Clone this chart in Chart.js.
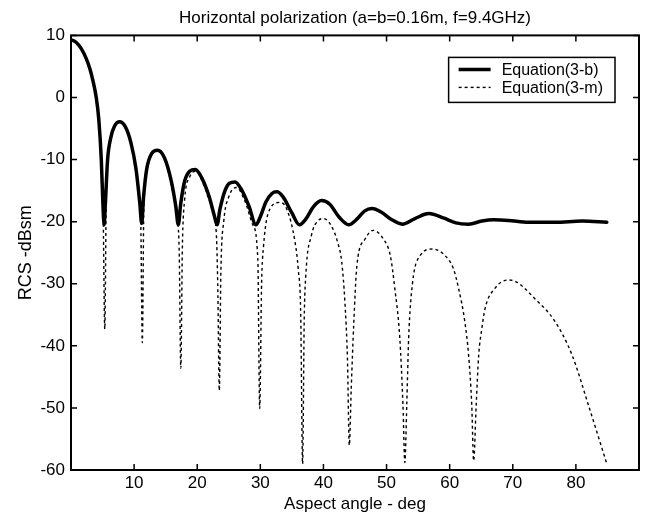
<!DOCTYPE html>
<html><head><meta charset="utf-8">
<script src="https://cdn.jsdelivr.net/npm/chart.js@4.4.1/dist/chart.umd.min.js"></script>
<style>html,body{margin:0;padding:0;background:#fff}#wrap{width:653px;height:516px;position:relative}</style>
</head><body><div id="wrap"><canvas id="c"></canvas></div>
<script>
const titleText = 'Horizontal polarization (a=b=0.16m, f=9.4GHz)';
const xTitle = 'Aspect angle - deg';
const yTitle = 'RCS -dBsm';
const seriesNames = ['Equation(3-b)', 'Equation(3-m)'];
const xTicks = [10, 20, 30, 40, 50, 60, 70, 80];
const yTicks = [-60, -50, -40, -30, -20, -10, 0, 10];

const angleB = [0,0.8,1.6,2.4,3.0,3.5,4.0,4.4,4.8,5.05,5.25,5.45,5.8,6.3,6.9,7.7,8.6,9.5,10.3,10.9,11.2,11.5,12.0,12.8,13.7,14.8,15.9,16.6,17.0,17.4,18.0,18.8,19.7,20.7,21.9,22.7,23.15,23.6,24.4,25.1,26.0,27.0,28.2,29.3,30.0,30.9,31.8,32.6,33.6,35.0,36.2,37.2,38.4,39.7,41.0,42.5,44.0,45.3,46.5,47.7,49.2,50.7,52.5,54.5,56.7,59.0,61.0,63.0,65.1,67.0,69.3,72.5,76.7,81.0,84.9];
const rcsB = [9.3,8.9,7.9,6.3,4.6,2.6,0.0,-3.5,-10,-17,-20.5,-17,-10,-6.5,-4.6,-3.9,-4.7,-7.3,-11.5,-17,-20.3,-16,-11.5,-9.0,-8.5,-9.7,-13.5,-17.5,-20.5,-17,-13.5,-11.9,-11.6,-12.9,-16.0,-19,-20.5,-18,-15,-13.8,-13.6,-14.8,-17.5,-20.5,-19.2,-16.8,-15.5,-15.2,-16.0,-18.6,-20.5,-19.6,-17.6,-16.6,-17.2,-19.3,-20.5,-19.6,-18.3,-17.9,-18.5,-19.6,-20.4,-19.5,-18.7,-19.4,-20.2,-20.4,-19.9,-19.7,-19.8,-20.1,-20.1,-19.9,-20.1];

const angleM = [0,0.8,1.6,2.4,3.0,3.5,4.0,4.4,4.8,5.1,5.35,5.6,6.0,6.7,7.7,8.8,9.8,10.6,11.05,11.3,11.55,11.9,12.7,13.7,14.9,15.9,16.8,17.15,17.4,17.65,18.0,18.8,19.8,21.0,22.2,23.0,23.25,23.5,23.75,24.2,25.0,26.2,27.6,28.8,29.6,29.9,30.2,30.5,31.5,33.1,34.2,35.5,36.0,36.4,36.7,36.95,37.2,38.1,39.2,40.0,41.2,42.3,42.9,43.4,43.8,44.1,44.4,44.8,45.3,46.6,47.9,49.5,50.6,51.3,52.1,52.6,52.9,53.2,53.5,54.1,55.3,57.3,59.3,60.6,61.4,62.4,63.0,63.5,63.8,64.2,64.6,65.1,65.6,67.2,69.2,70.4,73.5,76.7,79.4,82.0,84.9];
const rcsM = [9.3,8.9,7.9,6.3,4.6,2.6,0.0,-3.5,-10,-19,-37.3,-15,-8.2,-5.0,-4.0,-5.0,-8.8,-14.2,-20,-39.5,-17,-12.6,-9.3,-8.6,-9.9,-14.2,-19.5,-25,-43.6,-24,-16.5,-12.8,-11.9,-14.0,-17.5,-21.5,-30,-47.2,-28,-20,-16.0,-14.5,-16.8,-20.5,-26,-50.1,-30,-24,-18.0,-16.9,-18.0,-23.3,-27.6,-35,-59,-36,-28.7,-22.2,-19.8,-19.5,-20.6,-23.5,-26.5,-33,-42,-56,-47,-36.5,-27.1,-22.8,-21.4,-22.8,-25.5,-30.7,-38.8,-49.6,-58.8,-49.6,-38.8,-30.0,-25.5,-24.4,-25.5,-27.6,-30.7,-36.1,-41.5,-49.6,-58.5,-49.6,-41.5,-37.2,-34.0,-30.7,-29.4,-29.6,-32.4,-36.1,-41.5,-49.6,-59];

const FONT = 'Liberation Sans, Arial, Helvetica, sans-serif';
const toPts = (xs, ys) => xs.map((x, i) => ({x: x, y: ys[i]}));

const framePlugin = {
  id: 'frameTicks',
  afterDraw(chart) {
    const {ctx, chartArea: a, scales} = chart;
    ctx.save();
    ctx.strokeStyle = '#000';
    ctx.lineWidth = 1.5;
    const tl = 6;
    ctx.beginPath();
    xTicks.forEach(v => {
      const px = scales.x.getPixelForValue(v);
      ctx.moveTo(px, a.bottom); ctx.lineTo(px, a.bottom - tl);
      ctx.moveTo(px, a.top); ctx.lineTo(px, a.top + tl);
    });
    yTicks.forEach(v => {
      const py = scales.y.getPixelForValue(v);
      ctx.moveTo(a.left, py); ctx.lineTo(a.left + tl, py);
      ctx.moveTo(a.right, py); ctx.lineTo(a.right - tl, py);
    });
    ctx.stroke();
    ctx.lineWidth = 2;
    ctx.strokeRect(a.left, a.top, a.right - a.left, a.bottom - a.top);

    // legend inside the axes
    ctx.font = '16px ' + FONT;
    const ds = chart.data.datasets;
    const tw = Math.max(...ds.map(d => ctx.measureText(d.label).width));
    const sample = 32, pad = 10, gap = 11, rowH = 18;
    const w = pad + sample + gap + tw + 12;
    const h = 12 + rowH * ds.length - 3;
    const right = a.right - 24, top = a.top + 22;
    const left = right - w;
    ctx.fillStyle = '#fff';
    ctx.fillRect(left, top, w, h);
    ctx.lineWidth = 1.5;
    ctx.strokeRect(left, top, w, h);
    ds.forEach((d, i) => {
      const y = top + 12 + i * rowH;
      ctx.beginPath();
      ctx.lineWidth = d.borderWidth;
      ctx.setLineDash(d.borderDash || []);
      ctx.moveTo(left + pad, y); ctx.lineTo(left + pad + sample, y);
      ctx.strokeStyle = d.borderColor;
      ctx.stroke();
      ctx.setLineDash([]);
      ctx.fillStyle = '#000';
      ctx.textBaseline = 'middle';
      ctx.textAlign = 'left';
      ctx.fillText(d.label, left + pad + sample + gap, y + 1);
    });
    ctx.restore();
  }
};

new Chart(document.getElementById('c'), {
  type: 'line',
  data: {
    datasets: [
      {label: seriesNames[0], data: toPts(angleB, rcsB), borderColor: '#000', borderWidth: 3.5,
       pointRadius: 0, tension: 0.4, cubicInterpolationMode: 'monotone', borderJoinStyle: 'round', borderCapStyle: 'round', fill: false},
      {label: seriesNames[1], data: toPts(angleM, rcsM), borderColor: '#000', borderWidth: 1.4, borderDash: [3, 3],
       pointRadius: 0, tension: 0.4, cubicInterpolationMode: 'monotone', fill: false}
    ]
  },
  options: {
    responsive: true, maintainAspectRatio: false, devicePixelRatio: 1, animation: false,
    layout: {padding: {left: 0, right: 14, top: 0, bottom: 0}},
    plugins: {
      legend: {display: false},
      tooltip: {enabled: false},
      title: {display: true, fullSize: false, text: titleText, color: '#000', font: {family: FONT, size: 17, weight: 'normal'}, padding: {top: 8, bottom: 7}}
    },
    scales: {
      x: {
        type: 'linear', min: 0, max: 90,
        grid: {display: false, drawTicks: false}, border: {display: false},
        ticks: {stepSize: 10, autoSkip: false, maxRotation: 0, padding: 3, color: '#000', font: {family: FONT, size: 17},
                callback: v => xTicks.includes(v) ? String(v) : ''},
        title: {display: true, text: xTitle, color: '#000', font: {family: FONT, size: 17}, padding: {top: 0, bottom: 1}},
        afterFit: s => { s.height = 46; }
      },
      y: {
        type: 'linear', min: -60, max: 10,
        grid: {display: false, drawTicks: false}, border: {display: false},
        ticks: {stepSize: 10, autoSkip: false, padding: 6, color: '#000', font: {family: FONT, size: 17},
                callback: v => yTicks.includes(v) ? String(v) : ''},
        title: {display: true, text: yTitle, color: '#000', font: {family: FONT, size: 18}, padding: {top: 15, bottom: 15}},
        afterFit: s => { s.width = 71; }
      }
    }
  },
  plugins: [framePlugin]
});
</script></body></html>
